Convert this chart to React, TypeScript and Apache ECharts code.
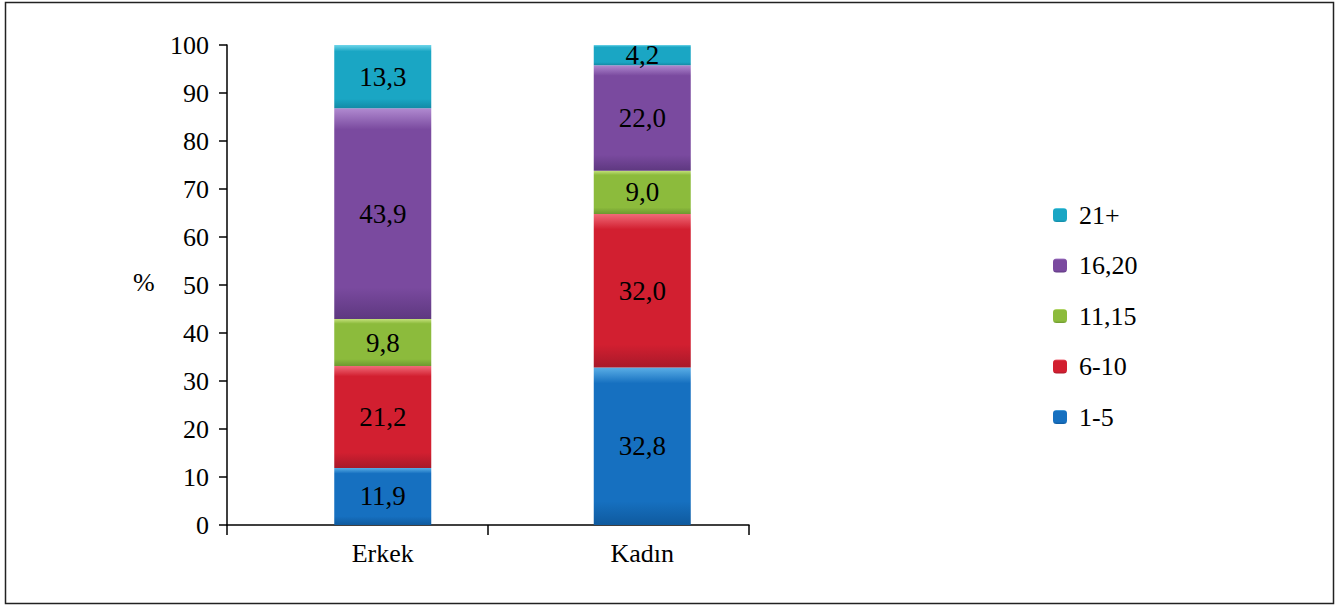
import React, { useEffect, useRef } from "react";
import * as echarts from "echarts";

const categories = ["Erkek", "Kadın"];
const seriesNames = ["1-5", "6-10", "11,15", "16,20", "21+"];
const values1to5 = [11.9, 32.8];
const values6to10 = [21.2, 32.0];
const values11to15 = [9.8, 9.0];
const values16to20 = [43.9, 22.0];
const values21plus = [13.3, 4.2];
const legendOrder = ["21+", "16,20", "11,15", "6-10", "1-5"];

const palette = [
  { light: "#5aaee6", base: "#1670c0", dark: "#0f5a9e" },
  { light: "#f06a78", base: "#d21f30", dark: "#a8192a" },
  { light: "#c3e07a", base: "#8cbb3c", dark: "#6d9830" },
  { light: "#b08ad0", base: "#7a4a9f", dark: "#5e3880" },
  { light: "#6fd6ea", base: "#1aa6c4", dark: "#138aa5" },
];

const FONT = "Times New Roman, Liberation Serif, DejaVu Serif, serif";

export default function App() {
  const ref = useRef<HTMLDivElement>(null);
  useEffect(() => {
    if (!ref.current) return;
    const chart = echarts.init(ref.current, undefined, { renderer: "svg" });
    const allValues = [values1to5, values6to10, values11to15, values16to20, values21plus];
    const series = allValues.map((vals, i) => ({
      name: seriesNames[i],
      type: "bar",
      stack: "total",
      xAxisIndex: 1,
      yAxisIndex: 1,
      barWidth: 97,
      data: vals,
      itemStyle: {
        color: new echarts.graphic.LinearGradient(0, 0, 0, 1, [
          { offset: 0, color: palette[i].light },
          { offset: 0.1, color: palette[i].base },
          { offset: 0.85, color: palette[i].base },
          { offset: 1, color: palette[i].dark },
        ]),
      },
      label: {
        show: true,
        position: "inside",
        color: "#000",
        fontFamily: FONT,
        fontSize: 27,
        formatter: (p: any) => Number(p.value).toFixed(1).replace(".", ","),
      },
    }));
    chart.setOption({
      animation: false,
      backgroundColor: "#fff",
      textStyle: { fontFamily: FONT },
      grid: [
        { left: 227, top: 45, width: 522, height: 480 },
        { left: 253, top: 45, width: 519, height: 480 },
      ],
      xAxis: [
        {
          type: "category",
          gridIndex: 0,
          data: ["", ""],
          axisLine: { show: true, lineStyle: { color: "#000", width: 1.5 } },
          axisTick: { show: true, length: 10, lineStyle: { color: "#000", width: 1.5 } },
          axisLabel: { show: false },
        },
        {
          type: "category",
          gridIndex: 1,
          data: categories,
          axisLine: { show: false },
          axisTick: { show: false },
          axisLabel: { color: "#000", fontFamily: FONT, fontSize: 26, margin: 15 },
        },
      ],
      yAxis: [
        {
          type: "value",
          gridIndex: 0,
          min: 0,
          max: 100,
          interval: 10,
          splitLine: { show: false },
          axisLine: { show: true, lineStyle: { color: "#000", width: 1.5 } },
          axisTick: { show: true, length: 8, lineStyle: { color: "#000", width: 1.5 } },
          axisLabel: { color: "#000", fontFamily: FONT, fontSize: 26, margin: 18 },
        },
        {
          type: "value",
          gridIndex: 1,
          min: 0,
          max: 100,
          show: false,
          splitLine: { show: false },
        },
      ],
      legend: {
        orient: "vertical",
        left: 1048,
        top: 197,
        itemWidth: 14,
        itemHeight: 14,
        itemGap: 24.5,
        data: legendOrder,
        textStyle: { color: "#000", fontFamily: FONT, fontSize: 26, padding: [0, 0, 0, 7] },
      },
      graphic: [
        {
          type: "rect",
          shape: { x: 5.5, y: 2.5, width: 1328, height: 601 },
          style: { fill: "none", stroke: "#222", lineWidth: 1.5 },
          silent: true,
        },
        {
          type: "text",
          left: 133,
          top: 269,
          style: { text: "%", fill: "#000", fontFamily: FONT, fontSize: 26 },
        },
      ],
      series,
    });
    return () => chart.dispose();
  }, []);
  return (
    <div
      ref={ref}
      style={{ position: "fixed", left: 0, top: 0, width: 1336, height: 605, background: "#fff" }}
    />
  );
}
